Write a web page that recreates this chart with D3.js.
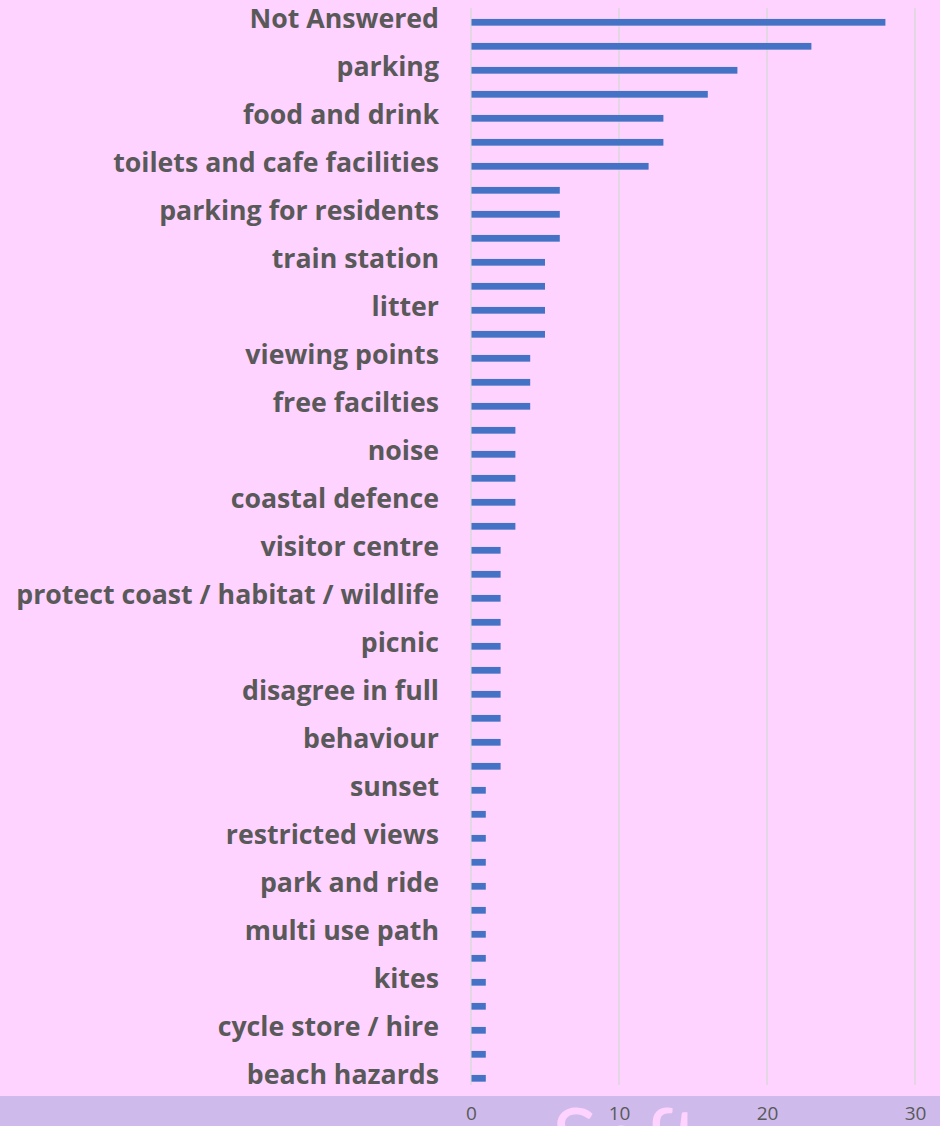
<!DOCTYPE html>
<html>
<head>
<meta charset="utf-8">
<script src="https://cdn.jsdelivr.net/npm/d3@7"></script>
<style>
    body { margin: 0; background: #ffd3ff; }
    svg { display: block; }
    .y-axis text { font-family: "Open Sans", Lato, sans-serif; font-weight: bold; fill: #595959; }
    .x-axis text { font-family: "Open Sans", Lato, sans-serif; fill: #595959; }
    .axis path { display: none; }
</style>
</head>
<body>
<div id="chart-area"></div>
<script>

// only every second category got a label in the original chart, the others are left blank
var categories = ["Not Answered", "", "parking", "", "food and drink", "", "toilets and cafe facilities", "",
    "parking for residents", "", "train station", "", "litter", "", "viewing points", "", "free facilties", "",
    "noise", "", "coastal defence", "", "visitor centre", "", "protect coast / habitat / wildlife", "",
    "picnic", "", "disagree in full", "", "behaviour", "", "sunset", "", "restricted views", "",
    "park and ride", "", "multi use path", "", "kites", "", "cycle store / hire", "", "beach hazards"];

var counts = [28, 23, 18, 16, 13, 13, 12, 6, 6, 6, 5, 5, 5, 5, 4, 4, 4, 3, 3, 3, 3, 3,
    2, 2, 2, 2, 2, 2, 2, 2, 2, 2, 1, 1, 1, 1, 1, 1, 1, 1, 1, 1, 1, 1, 1];

var xTicks = [0, 10, 20, 30];

BarChart = function(_parentElement){
    this.parentElement = _parentElement;
    this.initVis();
}

BarChart.prototype.initVis = function() {
    var vis = this;

    vis.width = 940;
    vis.height = 1126;

    vis.svg = d3.select("#" + vis.parentElement).append("svg")
        .attr("width", vis.width)
        .attr("height", vis.height);

    vis.svg.append("rect")
        .attr("width", vis.width)
        .attr("height", vis.height)
        .attr("fill", "#ffd3ff");

    // lavender strip behind the value axis
    vis.svg.append("rect")
        .attr("y", 1096)
        .attr("width", vis.width)
        .attr("height", vis.height - 1096)
        .attr("fill", "#cebbeb");

    // faint watermark, mostly cut off at the bottom
    vis.svg.append("text")
        .attr("x", 552)
        .attr("y", 1168)
        .attr("font-family", "Lato, sans-serif")
        .attr("font-size", 84)
        .attr("fill", "#ffd3ff")
        .text("Soft");

    vis.x = d3.scaleLinear()
        .domain([0, 30])
        .range([471, 915]);

    vis.y = d3.scaleBand()
        .domain(d3.range(counts.length))
        .range([10.3, 1090.3])
        .paddingInner(0.72)
        .paddingOuter(0.36);

    // gridlines
    vis.svg.append("g")
        .attr("class", "grid")
        .selectAll("line")
        .data(xTicks)
        .enter()
        .append("line")
        .attr("x1", function(d) { return vis.x(d); })
        .attr("x2", function(d) { return vis.x(d); })
        .attr("y1", 8)
        .attr("y2", 1085)
        .attr("stroke", "#d9d9d9")
        .attr("stroke-width", 1.5);

    vis.svg.selectAll(".bar")
        .data(counts)
        .enter()
        .append("rect")
        .attr("class", "bar")
        .attr("x", vis.x(0) + 0.5)
        .attr("y", function(d, i) { return vis.y(i); })
        .attr("width", function(d) { return vis.x(d) - vis.x(0) - 0.5; })
        .attr("height", vis.y.bandwidth())
        .attr("fill", "#4472c4");

    vis.yAxis = d3.axisLeft(vis.y)
        .tickValues(d3.range(counts.length).filter(function(i) { return categories[i] !== ""; }))
        .tickFormat(function(i) { return categories[i]; })
        .tickSize(0)
        .tickPadding(32);

    vis.labels = vis.svg.append("g")
        .attr("class", "axis y-axis")
        .attr("transform", "translate(" + vis.x(0) + ",0)")
        .call(vis.yAxis)
        .selectAll("text")
        .attr("font-size", 24)
        .attr("dy", "0.2em");

    // size the category labels so the longest one starts near the left edge, like the original
    var longest = d3.max(vis.labels.nodes(), function(n) { return n.getComputedTextLength(); });
    vis.labels.attr("font-size", 24 * 423 / longest);

    vis.xAxis = d3.axisBottom(vis.x)
        .tickValues(xTicks)
        .tickSize(0)
        .tickPadding(0);

    vis.svg.append("g")
        .attr("class", "axis x-axis")
        .attr("transform", "translate(0,1106.5)")
        .call(vis.xAxis)
        .selectAll("text")
        .attr("font-size", 19)
        .attr("dy", "0.71em");
}

new BarChart("chart-area");

</script>
</body>
</html>
